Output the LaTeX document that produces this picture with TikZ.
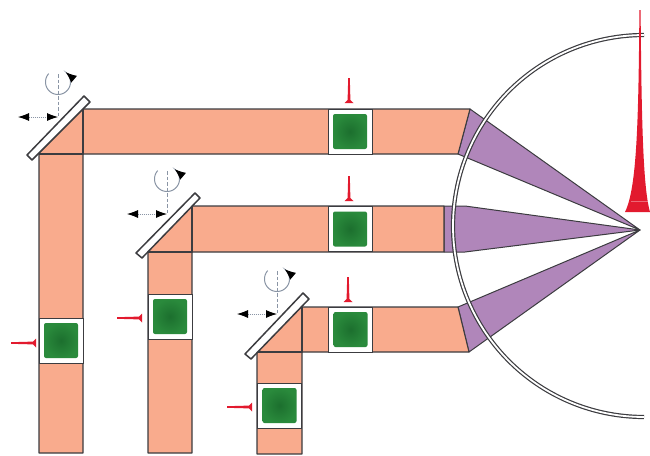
\documentclass[tikz,border=0pt]{standalone}
\usetikzlibrary{arrows.meta}
\definecolor{salmon}{HTML}{F9AB8D}
\definecolor{violet2}{HTML}{B086BA}
\definecolor{edge}{HTML}{3C3C40}
\definecolor{pinred}{HTML}{E21A2E}
\definecolor{gdark}{HTML}{1C6F2E}
\definecolor{glight}{HTML}{2A8A3C}
\definecolor{ctrl}{HTML}{8A95A5}
\tikzset{
  x=1pt,y=-1pt,
  beam/.style={fill=salmon,draw=edge,line width=1.1pt,line join=round},
  fan/.style={fill=violet2,draw=edge,line width=1pt,line join=round},
  cell/.style={draw=edge,fill=white,line width=1pt,minimum width=44pt,minimum height=45pt,inner sep=0pt,outer sep=0pt},
  chip/.style={rounded corners=2pt,inner color=gdark,outer color=glight,minimum width=34pt,minimum height=35pt,inner sep=0pt,outer sep=0pt},
  mirrorbar/.style={fill=white,draw=edge,line width=1.5pt,line join=round},
  axisline/.style={draw=ctrl,line width=.8pt,dash pattern=on 3.5pt off 2pt},
  arcline/.style={draw=ctrl,line width=1pt},
  pushline/.style={draw=ctrl,line width=.8pt,dash pattern=on 1.2pt off .8pt,
     {Latex[length=11pt,width=8pt,black]}-{Latex[length=11pt,width=8pt,black]}},
  spin/.style={-{Latex[length=11pt,width=9pt,black]}},
  pin/.style={fill=pinred,draw=none},
  pics/redpin/.style={code={
    \fill[pin] (-.8,-25) -- (-1.4,-3) -- (-4.5,0) -- (4.5,0) -- (1.4,-3) -- (.8,-25) -- cycle;
  }},
  pics/control/.style={code={
    \draw[axisline] (0,-43) -- (0,0);
    \draw[pushline] (-40,0) -- (0,0);
    \draw[arcline,spin] plot[smooth,domain=138:412,samples=40] ({12.5*cos(\x)},{-35-12.5*sin(\x)});
  }},
}
\newcommand{\cellat}[3]{\node[cell] (#1) at (#2) {}; \node[chip] (#3) at (#1.center) {};}
\begin{document}
\begin{tikzpicture}
\useasboundingbox (0,0) rectangle (650,455);
% detector sphere and fans
\draw[fan] (470,109) -- (640,230) -- (458,154) -- cycle;
\draw[fan] (444,206) -- (465,206) -- (640,230) -- (465,252) -- (444,252) -- cycle;
\draw[fan] (458,307) -- (640,230) -- (469,352) -- cycle;
\draw[edge,line width=4.2pt] plot[smooth,domain=90:270,samples=80] ({644+191*cos(\x)},{226-191*sin(\x)});
\draw[white,line width=1.8pt] plot[smooth,domain=90:270,samples=80] ({644+191*cos(\x)},{226-191*sin(\x)});
% beams
\draw[beam] (39,453) -- (39,154) -- (83,109) -- (470,109) -- (458,154) -- (83,154) -- (83,453) -- cycle;
\draw[beam] (39,154) -- (83,154) -- (83,109);
\draw[beam] (148,453) -- (148,252) -- (192,206) -- (444,206) -- (444,252) -- (192,252) -- (192,453) -- cycle;
\draw[beam] (148,252) -- (192,252) -- (192,206);
\draw[beam] (257,454) -- (257,352) -- (302,307) -- (458,307) -- (469,352) -- (302,352) -- (302,454) -- cycle;
\draw[beam] (257,352) -- (302,352) -- (302,307);
% modulators
\cellat{ta}{350,131.5}{ga}
\cellat{tb}{350,229}{gb}
\cellat{tc}{350.5,329.5}{gc}
\cellat{la}{61,340.5}{gd}
\cellat{lb}{170,316.5}{ge}
\cellat{lc}{279.5,405.5}{gf}
% mirrors
\draw[mirrorbar] (84,96) -- (90,102) -- (32,160) -- (27,155) -- cycle;
\draw[mirrorbar] (195,193) -- (200,198) -- (142,258) -- (136,253) -- cycle;
\draw[mirrorbar] (303,293) -- (309,299) -- (251,359) -- (245,354) -- cycle;
% controls
\pic at (58,117) {control};
\pic at (167,214) {control};
\pic at (277,314) {control};
% pins
\pic at (349,103) {redpin};
\pic at (349,201) {redpin};
\pic at (348,302) {redpin};
\pic[rotate=90] at (36,343) {redpin};
\pic[rotate=90] at (142,318) {redpin};
\pic[rotate=90] at (252,407) {redpin};
% pulse
\fill[pin] (639.4,10) .. controls (638.5,120) and (637,188) .. (625,212) -- (650,212) .. controls (643,188) and (641.5,120) .. (640.6,10) -- cycle;
\draw[white,opacity=.35,line width=.5pt] (631,201) -- (649,201);
\end{tikzpicture}
\end{document}
